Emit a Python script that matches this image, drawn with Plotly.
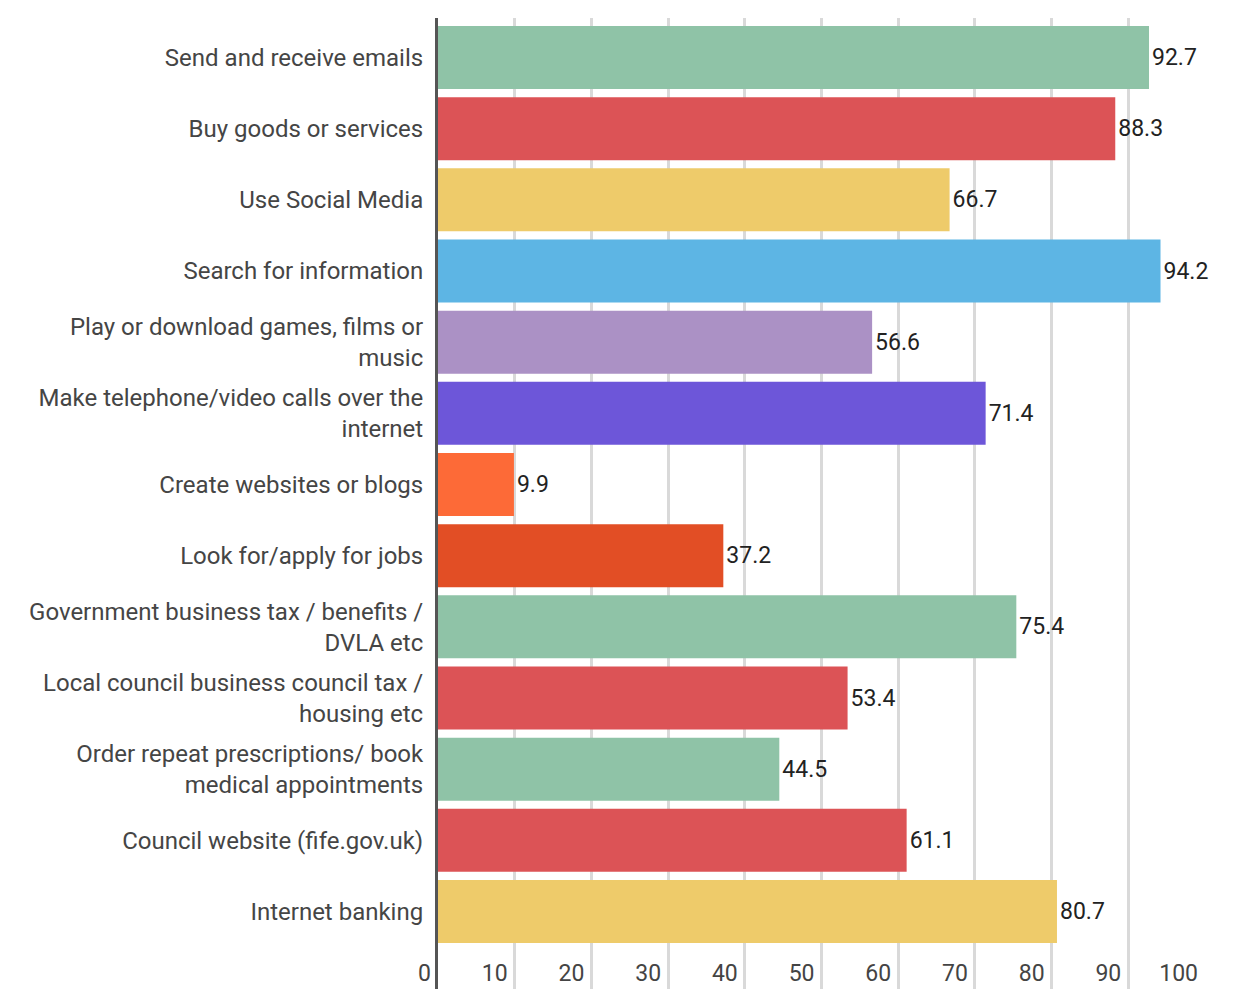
import plotly.graph_objects as go

# Survey results: share of respondents (%) using the internet for each activity
activities = [
    "Send and receive emails",
    "Buy goods or services",
    "Use Social Media",
    "Search for information",
    "Play or download games, films or<br>music",
    "Make telephone/video calls over the<br>internet",
    "Create websites or blogs",
    "Look for/apply for jobs",
    "Government business tax / benefits /<br>DVLA etc",
    "Local council business council tax /<br>housing etc",
    "Order repeat prescriptions/ book<br>medical appointments",
    "Council website (fife.gov.uk)",
    "Internet banking",
]
percentages = [92.7, 88.3, 66.7, 94.2, 56.6, 71.4, 9.9, 37.2, 75.4, 53.4, 44.5, 61.1, 80.7]
bar_colors = [
    "#8fc3a7", "#dc5356", "#eecb6a", "#5db5e4", "#ab91c5", "#6d56d9", "#fd6a37",
    "#e24e25", "#8fc3a7", "#dc5356", "#8fc3a7", "#dc5356", "#eecb6a",
]
x_ticks = [0, 10, 20, 30, 40, 50, 60, 70, 80, 90, 100]

FONT = "Roboto, Arial, sans-serif"

fig = go.Figure(
    go.Bar(
        x=percentages,
        y=activities,
        orientation="h",
        marker=dict(color=bar_colors, line=dict(width=0)),
        text=[f"{v:.1f}" for v in percentages],
        textposition="outside",
        textfont=dict(family=FONT, size=23, color="#222222"),
        cliponaxis=False,
        hoverinfo="x+y",
    )
)

fig.update_layout(
    width=1235,
    height=989,
    margin=dict(l=438, r=30, t=18, b=0),
    paper_bgcolor="white",
    plot_bgcolor="white",
    bargap=0.115,
    showlegend=False,
    font=dict(family=FONT, size=23, color="#444444"),
)

fig.update_xaxes(
    range=[0, 100],
    tickvals=x_ticks,
    ticktext=[str(t) for t in x_ticks],
    showgrid=True,
    gridcolor="#d9d9d9",
    gridwidth=2.5,
    zeroline=False,
    showline=False,
    ticks="",
    ticklabelposition="outside left",
    ticklabelstandoff=-32,
    ticklabelshift=-7,
    tickfont=dict(family=FONT, size=23, color="#444444"),
    automargin=False,
)

fig.update_yaxes(
    range=[13.089, -0.555],
    showgrid=False,
    zeroline=False,
    showline=True,
    linecolor="#555555",
    linewidth=3,
    ticks="",
    ticklabelstandoff=7,
    tickfont=dict(family=FONT, size=24, color="#454545"),
    automargin=False,
)

fig.write_html("out.html")
